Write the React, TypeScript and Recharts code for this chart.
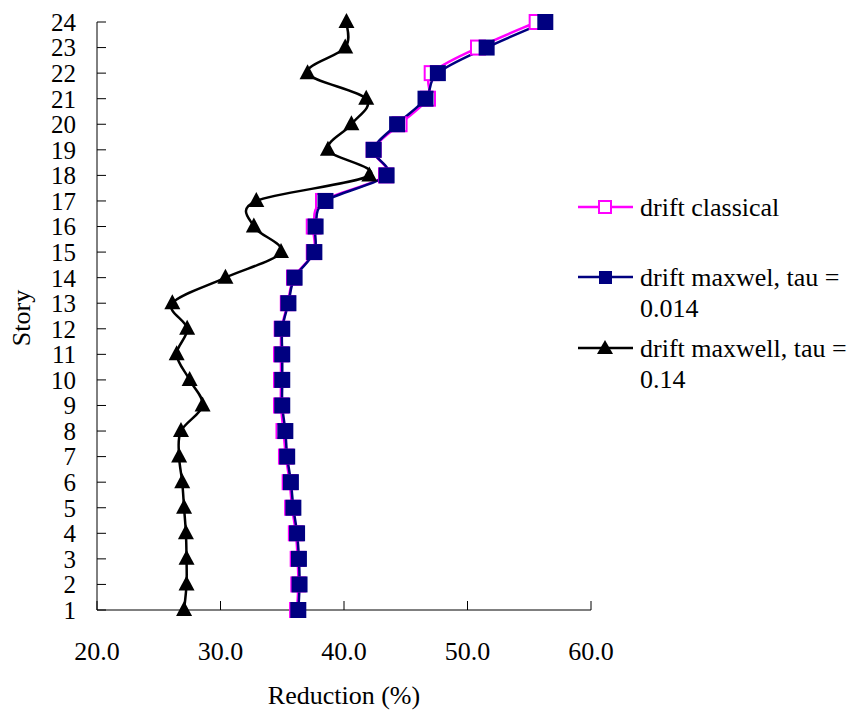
import { LineChart, Line, XAxis, YAxis } from 'recharts'

const stories = [1, 2, 3, 4, 5, 6, 7, 8, 9, 10, 11, 12, 13, 14, 15, 16, 17, 18, 19, 20, 21, 22, 23, 24]

const driftClassical = [
  36.2, 36.3, 36.25, 36.1, 35.8, 35.6, 35.3, 35.1, 34.9, 34.9, 34.9, 34.95,
  35.45, 35.95, 37.55, 37.55, 38.3, 43.4, 42.4, 44.5, 46.8, 47.1, 50.85, 55.6,
]
const driftMaxwel014 = [
  36.3, 36.4, 36.35, 36.2, 35.9, 35.7, 35.4, 35.25, 35.0, 35.0, 35.0, 35.0,
  35.5, 36.0, 37.6, 37.7, 38.5, 43.45, 42.4, 44.3, 46.6, 47.6, 51.55, 56.3,
]
const driftMaxwell14 = [
  27.05, 27.25, 27.25, 27.2, 27.05, 26.9, 26.65, 26.8, 28.55, 27.5, 26.45, 27.3,
  26.1, 30.4, 34.9, 32.7, 32.9, 42.05, 38.7, 40.6, 41.8, 37.05, 40.1, 40.2,
]

const xTicks = [20, 30, 40, 50, 60]

const data = stories.map((story, i) => ({
  story,
  classical: driftClassical[i],
  maxwel: driftMaxwel014[i],
  maxwell: driftMaxwell14[i],
}))

const FONT = '"Liberation Serif", "Times New Roman", serif'
const MAGENTA = '#ff00ff'
const NAVY = '#000080'

// excel style smoothing (catmull-rom)
const excelSmooth = (context: any) => {
  let pts: number[][] = []
  return {
    areaStart() {},
    areaEnd() {},
    lineStart() {
      pts = []
    },
    point(x: number, y: number) {
      pts.push([+x, +y])
    },
    lineEnd() {
      if (!pts.length) return
      context.moveTo(pts[0][0], pts[0][1])
      for (let i = 0; i < pts.length - 1; i++) {
        const p0 = pts[Math.max(i - 1, 0)]
        const p1 = pts[i]
        const p2 = pts[i + 1]
        const p3 = pts[Math.min(i + 2, pts.length - 1)]
        context.bezierCurveTo(
          p1[0] + (p2[0] - p0[0]) / 6,
          p1[1] + (p2[1] - p0[1]) / 6,
          p2[0] - (p3[0] - p1[0]) / 6,
          p2[1] - (p3[1] - p1[1]) / 6,
          p2[0],
          p2[1]
        )
      }
    },
  }
}

const squareDot = (fill: string, stroke: string, size: number) => (props: any) => {
  const { cx, cy, index } = props
  return (
    <rect
      key={`sq-${index}`}
      x={cx - size / 2}
      y={cy - size / 2}
      width={size}
      height={size}
      fill={fill}
      stroke={stroke}
      strokeWidth={2}
    />
  )
}

const triangleDot = (props: any) => {
  const { cx, cy, index } = props
  return (
    <polygon
      key={`tri-${index}`}
      points={`${cx},${cy - 9} ${cx - 8},${cy + 6} ${cx + 8},${cy + 6}`}
      fill="#000"
    />
  )
}

const LegendRow = ({ top, color, marker, lines }: any) => (
  <div style={{ position: 'absolute', left: 578, top: top - 15, display: 'flex' }}>
    <svg width={56} height={30} style={{ flexShrink: 0 }}>
      <line x1={0} y1={15} x2={55} y2={15} stroke={color} strokeWidth={2.5} />
      {marker === 'open' && <rect x={21} y={9} width={12} height={12} fill="#fff" stroke={color} strokeWidth={2} />}
      {marker === 'square' && <rect x={21} y={9} width={13} height={13} fill={NAVY} />}
      {marker === 'triangle' && <polygon points="27,7 19,21 35,21" fill="#000" />}
    </svg>
    <div style={{ marginLeft: 6, fontSize: 26, lineHeight: '31px', whiteSpace: 'nowrap' }}>
      {lines.map((l: string, i: number) => (
        <div key={i}>{l}</div>
      ))}
    </div>
  </div>
)

export default function App() {
  return (
    <div
      style={{
        position: 'absolute',
        left: 0,
        top: 0,
        width: 853,
        height: 711,
        background: '#fff',
        fontFamily: FONT,
        color: '#000',
      }}
    >
      <LineChart
        width={853}
        height={711}
        data={data}
        layout="vertical"
        margin={{ top: 22, right: 262, bottom: 0, left: 0 }}
      >
        <XAxis
          type="number"
          domain={[20, 60]}
          ticks={xTicks}
          tickFormatter={(v: number) => v.toFixed(1)}
          height={101}
          stroke="#000"
          tickSize={-9}
          tickMargin={41}
          tick={{ fill: '#000', fontSize: 26, fontFamily: FONT }}
          allowDataOverflow
        />
        <YAxis
          type="number"
          dataKey="story"
          domain={[1, 24]}
          ticks={stories}
          interval={0}
          reversed
          width={97}
          stroke="#000"
          tickSize={-9}
          tickMargin={30}
          tick={{ fill: '#000', fontSize: 25, fontFamily: FONT }}
        />
        <Line
          dataKey="classical"
          type={excelSmooth as any}
          stroke={MAGENTA}
          strokeWidth={2.5}
          dot={squareDot('#fff', MAGENTA, 14)}
          isAnimationActive={false}
        />
        <Line
          dataKey="maxwel"
          type={excelSmooth as any}
          stroke={NAVY}
          strokeWidth={2.5}
          dot={squareDot(NAVY, NAVY, 14)}
          isAnimationActive={false}
        />
        <Line
          dataKey="maxwell"
          type={excelSmooth as any}
          stroke="#000"
          strokeWidth={2.5}
          dot={triangleDot}
          isAnimationActive={false}
        />
      </LineChart>

      <div
        style={{
          position: 'absolute',
          left: 22,
          top: 318,
          transform: 'translate(-50%, -50%) rotate(-90deg)',
          fontSize: 26,
          whiteSpace: 'nowrap',
        }}
      >
        Story
      </div>
      <div
        style={{
          position: 'absolute',
          left: 344,
          top: 696,
          transform: 'translate(-50%, -50%)',
          fontSize: 26,
          whiteSpace: 'nowrap',
        }}
      >
        Reduction (%)
      </div>

      <LegendRow top={207} color={MAGENTA} marker="open" lines={['drift classical']} />
      <LegendRow top={277} color={NAVY} marker="square" lines={['drift maxwel, tau =', '0.014']} />
      <LegendRow top={348} color="#000" marker="triangle" lines={['drift maxwell, tau =', '0.14']} />
    </div>
  )
}
